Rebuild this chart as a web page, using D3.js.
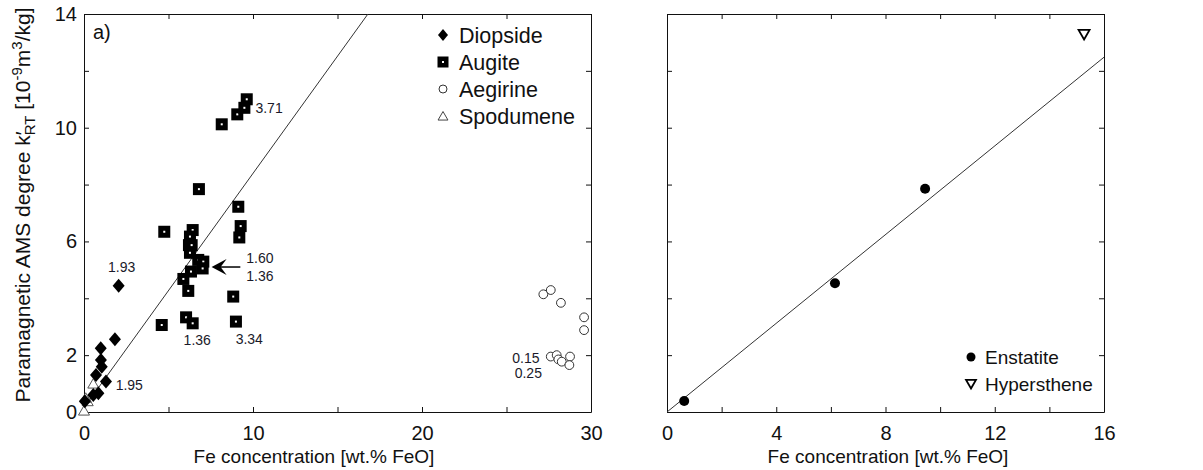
<!DOCTYPE html>
<html>
<head>
<meta charset="utf-8">
<script src="https://cdn.jsdelivr.net/npm/d3@7"></script>
<style>
body { margin: 0; background: #fff; }
svg { font-family: "Liberation Sans", Arial, sans-serif; }
</style>
</head>
<body>
<svg id="chart" width="1203" height="470"></svg>
<script>
// panel a) pyroxenes, [FeO wt.%, k'RT]
const diopside = [[2.05, 4.44], [1.83, 2.56], [0.99, 2.24], [1.0, 1.83], [1.05, 1.59], [0.71, 1.30], [1.30, 1.07], [0.85, 0.66], [0.55, 0.60], [0.05, 0.38]]
const augite = [[8.15, 10.12], [9.07, 10.47], [9.49, 10.70], [9.63, 11.0], [6.80, 7.84], [9.13, 7.22], [9.27, 6.54], [9.19, 6.14],
    [4.75, 6.34], [6.43, 6.40], [6.27, 6.17], [6.21, 5.87], [6.37, 5.87], [6.27, 5.60], [6.76, 5.35], [7.06, 5.29], [7.02, 5.05],
    [6.33, 4.94], [5.88, 4.68], [6.17, 4.26], [8.83, 4.06], [4.6, 3.06], [6.04, 3.33], [6.43, 3.12], [8.99, 3.18]]
const aegirine = [[27.18, 4.14], [27.62, 4.29], [28.22, 3.84], [29.59, 3.33], [29.59, 2.88], [27.62, 1.95], [27.97, 2.0],
    [28.07, 1.85], [28.27, 1.77], [28.76, 1.95], [28.72, 1.65]]
const spodumene = [[0.55, 1.0], [0.22, 0.38], [0.1, 0.5], [0, 0.05]]
const fitA = [[0, 0.15], [16.8, 14]]
const arrowA = [[9.25, 5.1], [7.55, 5.1]]
const notesA = [
    {text: "3.71", x: 10.95, y: 10.69},
    {text: "1.93", x: 2.23, y: 5.1},
    {text: "1.95", x: 2.68, y: 0.95},
    {text: "1.36", x: 6.7, y: 2.53},
    {text: "3.34", x: 9.78, y: 2.56},
    {text: "1.60", x: 10.41, y: 5.41},
    {text: "1.36", x: 10.41, y: 4.78},
    {text: "0.15", x: 26.15, y: 1.91},
    {text: "0.25", x: 26.29, y: 1.36}
]
const legendA = ["Diopside", "Augite", "Aegirine", "Spodumene"]

// panel b) orthopyroxenes
const enstatite = [[0.63, 0.39], [6.15, 4.53], [9.45, 7.85]]
const hypersthene = [[15.27, 13.28]]
const fitB = [[0, 0], [16, 12.48]]
const legendB = ["Enstatite", "Hypersthene"]

const yTicks = [0, 2, 4, 6, 8, 10, 12, 14]
const yLabels = [0, 2, 6, 10, 14]
const xTicksA = [0, 5, 10, 15, 20, 25, 30]
const xLabelsA = [0, 10, 20, 30]
const xTicksB = [0, 2, 4, 6, 8, 10, 12, 14, 16]
const xLabelsB = [0, 4, 8, 12, 16]

const svg = d3.select("#chart")

const y = d3.scaleLinear().domain([0, 14]).range([412, 14])
const xA = d3.scaleLinear().domain([0, 30]).range([84, 591])
const xB = d3.scaleLinear().domain([0, 16]).range([667, 1104])

const shapes = {
    diamond: (w, h) => `M0,${-h/2}L${w/2},0L0,${h/2}L${-w/2},0Z`,
    tri: s => `M0,${-s*0.5}L${s*0.55},${s*0.45}L${-s*0.55},${s*0.45}Z`,
    triDown: s => `M0,${s*0.5}L${s*0.55},${-s*0.45}L${-s*0.55},${-s*0.45}Z`
}

function frame(x, xt, xl, showY) {
    const [x0, x1] = x.range()
    const [y0, y1] = y.range()
    const fmt = list => d => list.includes(d) ? d : ""
    const style = g => g
        .call(g => g.selectAll(".domain").attr("stroke", "#111"))
        .call(g => g.selectAll(".tick line").attr("stroke", "#111"))
        .call(g => g.selectAll("text").attr("font-size", 20).attr("fill", "#111")
            .attr("font-family", "Liberation Sans, Arial, sans-serif"))

    svg.append("g").attr("transform", `translate(0,${y0})`)
        .call(d3.axisBottom(x).tickValues(xt).tickSizeInner(-5).tickSizeOuter(0).tickPadding(14).tickFormat(fmt(xl)))
        .call(style)
    svg.append("g").attr("transform", `translate(0,${y1})`)
        .call(d3.axisTop(x).tickValues(xt).tickSizeInner(-5).tickSizeOuter(0).tickFormat(""))
        .call(style)
    svg.append("g").attr("transform", `translate(${x0},0)`)
        .call(d3.axisLeft(y).tickValues(yTicks).tickSizeInner(-5).tickSizeOuter(0).tickPadding(7)
            .tickFormat(showY ? fmt(yLabels) : ""))
        .call(style)
    svg.append("g").attr("transform", `translate(${x1},0)`)
        .call(d3.axisRight(y).tickValues(yTicks).tickSizeInner(-5).tickSizeOuter(0).tickFormat(""))
        .call(style)
}

function fitLine(x, pts) {
    svg.append("line")
        .attr("x1", x(pts[0][0])).attr("y1", y(pts[0][1]))
        .attr("x2", x(pts[1][0])).attr("y2", y(pts[1][1]))
        .attr("stroke", "#333").attr("stroke-width", 1)
}

// ---- panel a ----
frame(xA, xTicksA, xLabelsA, true)
fitLine(xA, fitA)

const marks = svg.append("g")

marks.selectAll(".sp").data(spodumene).join("path")
    .attr("transform", d => `translate(${xA(d[0])},${y(d[1])})`)
    .attr("d", shapes.tri(10)).attr("fill", "#fff").attr("stroke", "#555").attr("stroke-width", 1)

marks.selectAll(".di").data(diopside).join("path")
    .attr("transform", d => `translate(${xA(d[0])},${y(d[1])})`)
    .attr("d", shapes.diamond(12, 14)).attr("fill", "#000")

const aug = marks.selectAll(".au").data(augite).join("g")
    .attr("transform", d => `translate(${xA(d[0])},${y(d[1])})`)
aug.append("rect").attr("x", -6).attr("y", -6).attr("width", 12).attr("height", 12).attr("fill", "#000")
aug.append("rect").attr("x", -1).attr("y", -1).attr("width", 2).attr("height", 2).attr("fill", "#fff")

marks.selectAll(".ae").data(aegirine).join("circle")
    .attr("cx", d => xA(d[0])).attr("cy", d => y(d[1])).attr("r", 4.4)
    .attr("fill", "#fff").attr("stroke", "#333").attr("stroke-width", 1)

// arrow
svg.append("line")
    .attr("x1", xA(arrowA[0][0])).attr("y1", y(arrowA[0][1]))
    .attr("x2", xA(arrowA[1][0]) + 8).attr("y2", y(arrowA[1][1]))
    .attr("stroke", "#000").attr("stroke-width", 1.5)
svg.append("path")
    .attr("transform", `translate(${xA(arrowA[1][0])},${y(arrowA[1][1])})`)
    .attr("d", "M0,0L15,-8L9,0L15,8Z").attr("fill", "#000")

svg.append("g").selectAll("text").data(notesA).join("text")
    .attr("x", d => xA(d.x)).attr("y", d => y(d.y))
    .attr("text-anchor", "middle").attr("dominant-baseline", "central")
    .attr("font-size", 14).attr("fill", "#1a1a2a")
    .text(d => d.text)

svg.append("text").attr("x", 93).attr("y", 39).attr("font-size", 20).attr("fill", "#111").text("a)")

// legend a
const legA = svg.append("g").selectAll("g").data(legendA).join("g")
    .attr("transform", (d, i) => `translate(443,${35 + i * 27})`)
legA.append("text").attr("x", 16).attr("dy", "0.35em").attr("font-size", 21.5).attr("fill", "#111").text(d => d)
legA.filter((d, i) => i === 0).append("path").attr("d", shapes.diamond(10, 12)).attr("fill", "#000")
legA.filter((d, i) => i === 1).call(g => {
    g.append("rect").attr("x", -5.5).attr("y", -5.5).attr("width", 11).attr("height", 11).attr("fill", "#000")
    g.append("rect").attr("x", -1).attr("y", -1).attr("width", 2).attr("height", 2).attr("fill", "#fff")
})
legA.filter((d, i) => i === 2).append("circle").attr("r", 4).attr("fill", "#fff").attr("stroke", "#333")
legA.filter((d, i) => i === 3).append("path").attr("d", shapes.tri(9)).attr("fill", "#fff").attr("stroke", "#444")

// ---- panel b ----
frame(xB, xTicksB, xLabelsB, false)
fitLine(xB, fitB)

svg.append("g").selectAll("circle").data(enstatite).join("circle")
    .attr("cx", d => xB(d[0])).attr("cy", d => y(d[1])).attr("r", 5).attr("fill", "#000")

svg.append("g").selectAll("path").data(hypersthene).join("path")
    .attr("transform", d => `translate(${xB(d[0])},${y(d[1])})`)
    .attr("d", shapes.triDown(10)).attr("fill", "#fff").attr("stroke", "#000").attr("stroke-width", 1.8)

const legB = svg.append("g").selectAll("g").data(legendB).join("g")
    .attr("transform", (d, i) => `translate(971,${357 + i * 27})`)
legB.append("text").attr("x", 14).attr("dy", "0.35em").attr("font-size", 19).attr("fill", "#111").text(d => d)
legB.filter((d, i) => i === 0).append("circle").attr("r", 4.5).attr("fill", "#000")
legB.filter((d, i) => i === 1).append("path").attr("d", shapes.triDown(9)).attr("fill", "#fff")
    .attr("stroke", "#000").attr("stroke-width", 1.8)

// ---- axis titles ----
svg.append("text").attr("x", 314).attr("y", 463).attr("text-anchor", "middle")
    .attr("font-size", 19).attr("fill", "#111").text("Fe concentration [wt.% FeO]")
svg.append("text").attr("x", 888).attr("y", 463).attr("text-anchor", "middle")
    .attr("font-size", 19).attr("fill", "#111").text("Fe concentration [wt.% FeO]")

const yt = svg.append("text")
    .attr("transform", "translate(30,205) rotate(-90)")
    .attr("text-anchor", "middle").attr("font-size", 21).attr("fill", "#111")
yt.append("tspan").text("Paramagnetic AMS degree k")
yt.append("tspan").text("′")
yt.append("tspan").attr("font-size", 15).attr("dx", -4).attr("dy", 5).text("RT")
yt.append("tspan").attr("dy", -5).text(" [10")
yt.append("tspan").attr("font-size", 15).attr("dy", -8).text("-9")
yt.append("tspan").attr("dy", 8).text("m")
yt.append("tspan").attr("font-size", 15).attr("dy", -8).text("3")
yt.append("tspan").attr("dy", 8).text("/kg]")
</script>
</body>
</html>
